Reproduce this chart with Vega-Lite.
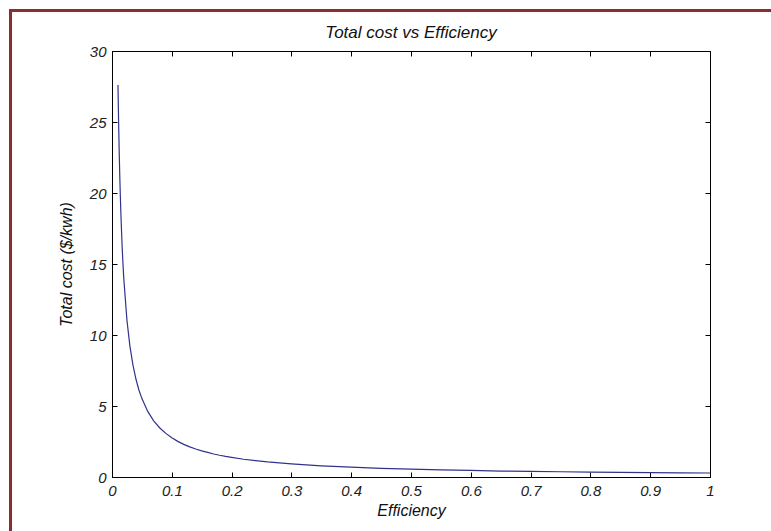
{
  "$schema": "https://vega.github.io/schema/vega-lite/v6.json",
  "width": 598,
  "height": 426,
  "autosize": {"type": "none"},
  "padding": {"left": 112, "top": 51, "right": 61, "bottom": 54},
  "background": "white",
  "title": {
    "text": "Total cost vs Efficiency",
    "font": "Liberation Sans",
    "fontSize": 17,
    "fontStyle": "italic",
    "fontWeight": "normal",
    "color": "#111",
    "anchor": "middle",
    "offset": -32
  },
  "config": {
    "view": {"stroke": "black", "strokeWidth": 1},
    "axis": {
      "grid": false,
      "domainColor": "black",
      "tickColor": "black",
      "tickSize": -5,
      "labelFont": "Liberation Sans",
      "labelFontStyle": "italic",
      "labelFontSize": 15,
      "labelColor": "#222",
      "titleFont": "Liberation Sans",
      "titleFontStyle": "italic",
      "titleFontWeight": "normal",
      "titleFontSize": 16,
      "titleColor": "#111"
    }
  },
  "data": {
    "values": [
      {"e": 0.01, "c": 27.6}, {"e": 0.011, "c": 25.1}, {"e": 0.012, "c": 23.0},
      {"e": 0.013, "c": 21.2}, {"e": 0.014, "c": 19.7}, {"e": 0.015, "c": 18.4},
      {"e": 0.016, "c": 17.25}, {"e": 0.017, "c": 16.2}, {"e": 0.018, "c": 15.3},
      {"e": 0.019, "c": 14.5}, {"e": 0.02, "c": 13.8}, {"e": 0.025, "c": 11.04},
      {"e": 0.03, "c": 9.2}, {"e": 0.035, "c": 7.89},
      {"e": 0.04, "c": 6.9}, {"e": 0.045, "c": 6.13}, {"e": 0.05, "c": 5.52}, {"e": 0.06, "c": 4.6},
      {"e": 0.07, "c": 3.94}, {"e": 0.08, "c": 3.45}, {"e": 0.09, "c": 3.07},
      {"e": 0.1, "c": 2.76}, {"e": 0.11, "c": 2.51}, {"e": 0.12, "c": 2.3},
      {"e": 0.13, "c": 2.12}, {"e": 0.14, "c": 1.97}, {"e": 0.15, "c": 1.84},
      {"e": 0.16, "c": 1.73}, {"e": 0.17, "c": 1.62}, {"e": 0.18, "c": 1.53},
      {"e": 0.19, "c": 1.45}, {"e": 0.2, "c": 1.38}, {"e": 0.22, "c": 1.25},
      {"e": 0.24, "c": 1.15}, {"e": 0.26, "c": 1.06}, {"e": 0.28, "c": 0.99},
      {"e": 0.3, "c": 0.92}, {"e": 0.35, "c": 0.79}, {"e": 0.4, "c": 0.69},
      {"e": 0.45, "c": 0.61}, {"e": 0.5, "c": 0.55}, {"e": 0.55, "c": 0.5},
      {"e": 0.6, "c": 0.46}, {"e": 0.65, "c": 0.42}, {"e": 0.7, "c": 0.39},
      {"e": 0.75, "c": 0.37}, {"e": 0.8, "c": 0.35}, {"e": 0.85, "c": 0.32},
      {"e": 0.9, "c": 0.31}, {"e": 0.95, "c": 0.29}, {"e": 1.0, "c": 0.28}
    ]
  },
  "encoding": {
    "x": {"field": "e", "type": "quantitative", "scale": {"domain": [0, 1], "nice": false, "zero": false}},
    "y": {"field": "c", "type": "quantitative", "scale": {"domain": [0, 30], "nice": false}}
  },
  "layer": [
    {
      "mark": {"type": "rect", "fill": null, "fillOpacity": 0, "stroke": "#8b2e2e", "strokeWidth": 2, "clip": false},
      "encoding": {
        "x": {"datum": -0.1697, "type": "quantitative", "axis": null},
        "x2": {"datum": 1.13},
        "y": {"datum": 32.85, "type": "quantitative", "axis": null},
        "y2": {"datum": -6}
      }
    },
    {
      "mark": {"type": "line", "color": "#32328c", "strokeWidth": 1.2},
      "encoding": {
        "x": {"field": "e", "type": "quantitative", "title": "Efficiency",
          "axis": {"orient": "bottom", "values": [0,0.1,0.2,0.3,0.4,0.5,0.6,0.7,0.8,0.9,1], "format": ".1~f", "labelPadding": 11, "titlePadding": 4, "labelFlush": false}},
        "y": {"field": "c", "type": "quantitative", "title": "Total cost ($/kwh)",
          "axis": {"orient": "left", "values": [0,5,10,15,20,25,30], "labelPadding": 11, "titlePadding": 15}}
      }
    },
    {
      "mark": {"type": "line", "opacity": 0},
      "encoding": {
        "x": {"field": "e", "type": "quantitative",
          "axis": {"orient": "top", "values": [0,0.1,0.2,0.3,0.4,0.5,0.6,0.7,0.8,0.9,1], "labels": false, "title": null}},
        "y": {"field": "c", "type": "quantitative",
          "axis": {"orient": "right", "values": [0,5,10,15,20,25,30], "labels": false, "title": null}}
      }
    }
  ],
  "resolve": {"axis": {"x": "independent", "y": "independent"}}
}
